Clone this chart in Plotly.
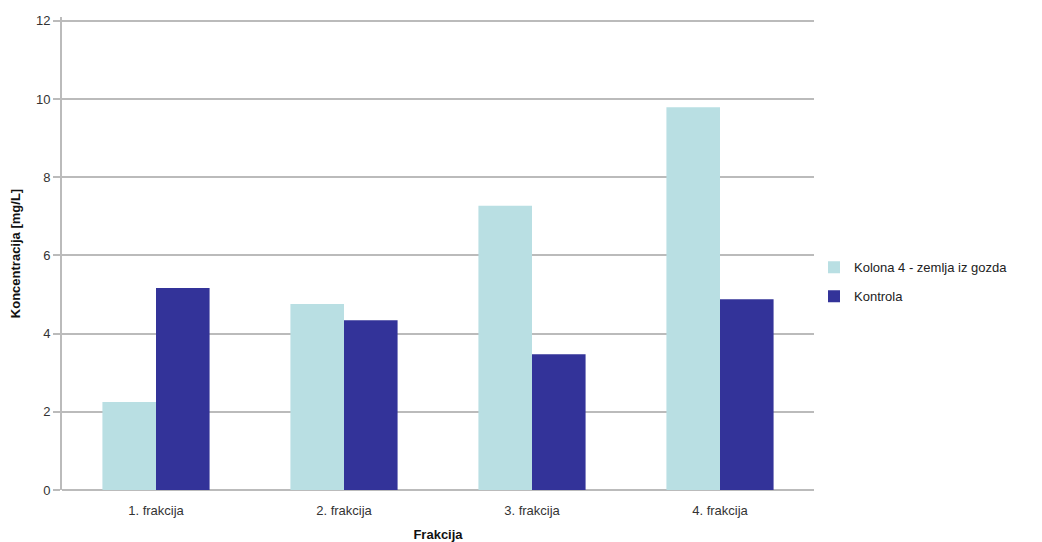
import plotly.graph_objects as go

categories = ['1. frakcija', '2. frakcija', '3. frakcija', '4. frakcija']
kolona = [2.25, 4.76, 7.27, 9.79]
kontrola = [5.17, 4.34, 3.47, 4.88]

fig = go.Figure()
fig.add_trace(go.Bar(name='Kolona 4 - zemlja iz gozda', x=categories, y=kolona,
                     marker_color='#B9DFE3', marker_line_width=0, legendgroup='a'))
fig.add_trace(go.Bar(name='Kontrola', x=categories, y=kontrola,
                     marker_color='#333399', marker_line_width=0, legendgroup='b'))

fig.update_layout(
    width=1042, height=542,
    margin=dict(l=54, r=236, t=5, b=60),
    plot_bgcolor='white', paper_bgcolor='white',
    barmode='group', bargap=0.43, bargroupgap=0,
    font=dict(family='Liberation Sans, Arial', size=13, color='#333333'),
    legend=dict(x=1.0, y=0.44, xanchor='left', yanchor='middle',
                font=dict(size=13, color='#222222'), tracegroupgap=9),
    xaxis=dict(
        title=dict(text='<b>Frakcija</b>', standoff=12, font=dict(size=13, color='#111111')),
        showline=False, ticks='', tickfont=dict(size=13), ticklabelstandoff=11,
    ),
    yaxis=dict(
        title=dict(text='<b>Koncentracija [mg/L]</b>', standoff=14, font=dict(size=13, color='#111111')),
        range=[0, 12.1], tickvals=[0, 2, 4, 6, 8, 10, 12],
        showgrid=True, gridcolor='#BBBBBB', gridwidth=1.5,
        showline=True, linecolor='#BBBBBB', linewidth=2,
        ticks='outside', ticklen=7, tickcolor='#BBBBBB', tickwidth=1.5,
        zeroline=True, zerolinecolor='#BBBBBB', zerolinewidth=2,
        tickfont=dict(size=13),
    ),
)

fig.write_html('out.html')
